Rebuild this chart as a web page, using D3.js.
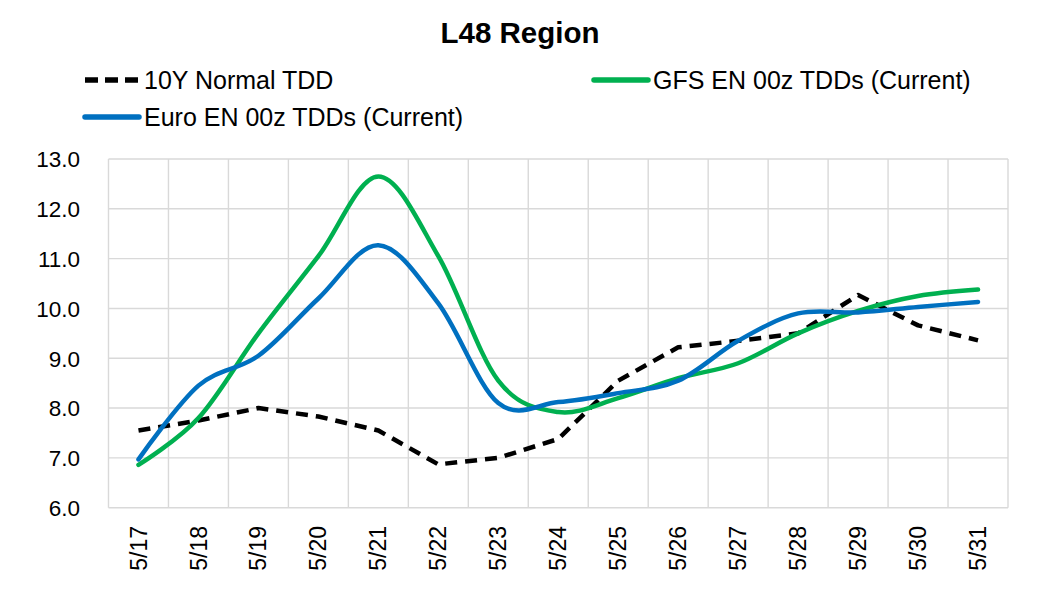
<!DOCTYPE html>
<html><head><meta charset="utf-8">
<script src="https://cdn.jsdelivr.net/npm/d3@7"></script>
<style>body{margin:0;background:#fff;} svg{display:block;font-family:"Liberation Sans",Arial,sans-serif;}</style>
</head><body>
<svg id="c" width="1040" height="602"></svg>
<script>
const categories = ["5/17","5/18","5/19","5/20","5/21","5/22","5/23","5/24","5/25","5/26","5/27","5/28","5/29","5/30","5/31"];
const normalTDD = [7.55,7.75,8.0,7.83,7.55,6.87,7.0,7.38,8.55,9.22,9.35,9.5,10.27,9.66,9.36];
const gfsTDD = [6.86,7.8,9.5,11.05,12.65,11.05,8.55,7.92,8.2,8.6,8.9,9.5,9.95,10.25,10.38];
const euroTDD = [6.97,8.45,9.05,10.2,11.27,10.1,8.1,8.12,8.3,8.55,9.35,9.9,9.92,10.03,10.13];
const yTicks = [6,7,8,9,10,11,12,13];
const title = "L48 Region";
const seriesNames = ["10Y Normal TDD","GFS EN 00z TDDs (Current)","Euro EN 00z TDDs (Current)"];

const svg = d3.select("#c");
const x = d3.scaleBand().domain(categories).range([108.5,1008]);
const y = d3.scaleLinear().domain([6,13]).range([507.7,159]);
const grid = "#D9D9D9";

// gridlines
svg.append("g").selectAll("line.h").data(yTicks).join("line")
  .attr("x1",108.5).attr("x2",1008).attr("y1",d=>y(d)).attr("y2",d=>y(d))
  .attr("stroke",grid).attr("stroke-width",1.4);
const edges = categories.map(c=>x(c)).concat([x.range()[1]]);
svg.append("g").selectAll("line.v").data(edges).join("line")
  .attr("x1",d=>d).attr("x2",d=>d).attr("y1",159).attr("y2",507.7)
  .attr("stroke",grid).attr("stroke-width",1.4);

// y axis labels
const yAxis = svg.append("g").attr("transform","translate(80,0)")
  .call(d3.axisLeft(y).tickValues(yTicks).tickFormat(d3.format(".1f")).tickSize(0).tickPadding(0));
yAxis.select(".domain").remove();
yAxis.selectAll("text").attr("font-size",22.5).attr("fill","#000").attr("font-family","Liberation Sans, Arial, sans-serif").attr("dy","0.35em");

// x axis labels
const xAxis = svg.append("g").attr("transform","translate(0,526)")
  .call(d3.axisBottom(x).tickSize(0).tickPadding(0));
xAxis.select(".domain").remove();
xAxis.selectAll("text").attr("font-size",23).attr("fill","#000").attr("font-family","Liberation Sans, Arial, sans-serif")
  .attr("transform","rotate(-90)").attr("text-anchor","end").attr("x",0).attr("y",0).attr("dy","0.35em");

const cx = c => x(c) + x.bandwidth()/2;
const smooth = d3.line().x((d,i)=>cx(categories[i])).y(d=>y(d)).curve(d3.curveCardinal.tension(0));
const straight = d3.line().x((d,i)=>cx(categories[i])).y(d=>y(d));

svg.append("path").attr("d",straight(normalTDD)).attr("fill","none").attr("stroke","#000")
  .attr("stroke-width",4.5).attr("stroke-dasharray","12,8").attr("stroke-linejoin","round");
svg.append("path").attr("d",smooth(gfsTDD)).attr("fill","none").attr("stroke","#00B050")
  .attr("stroke-width",4.5).attr("stroke-linecap","round").attr("stroke-linejoin","round");
svg.append("path").attr("d",smooth(euroTDD)).attr("fill","none").attr("stroke","#0070C0")
  .attr("stroke-width",4.5).attr("stroke-linecap","round").attr("stroke-linejoin","round");

// title
svg.append("text").attr("x",520).attr("y",33).attr("dy","0.35em").attr("text-anchor","middle")
  .attr("font-size",29.5).attr("font-weight","bold").text(title);

// legend
const leg = [
  {name:seriesNames[0], x:83, y:80, color:"#000", dash:"13,7"},
  {name:seriesNames[1], x:592, y:80, color:"#00B050", dash:null},
  {name:seriesNames[2], x:83, y:117, color:"#0070C0", dash:null}
];
const lg = svg.append("g").selectAll("g").data(leg).join("g");
lg.append("line").attr("x1",d=>d.x+2).attr("x2",d=>d.x+56).attr("y1",d=>d.y).attr("y2",d=>d.y)
  .attr("stroke",d=>d.color).attr("stroke-width",5.5).attr("stroke-dasharray",d=>d.dash)
  .attr("stroke-linecap",d=>d.dash?"butt":"round");
lg.append("text").attr("x",d=>d.x+61).attr("y",d=>d.y).attr("dy","0.35em")
  .attr("font-size",25).attr("fill","#000").text(d=>d.name);
</script>
</body></html>
